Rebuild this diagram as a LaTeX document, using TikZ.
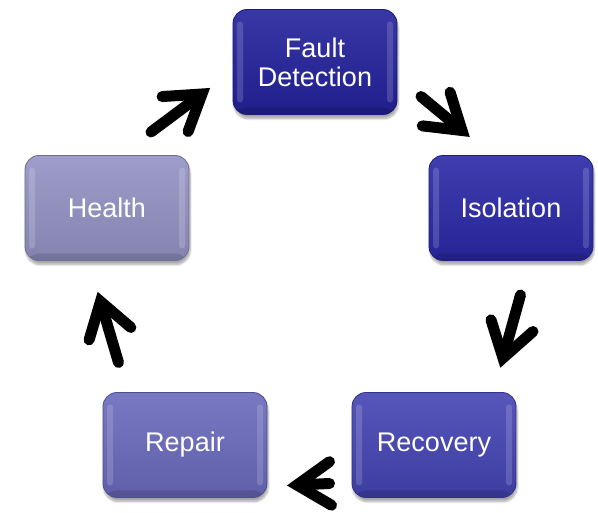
\documentclass[tikz,border=0pt]{standalone}
\usepackage{fontspec}
\setmainfont{Liberation Sans}
\usetikzlibrary{calc,shadows.blur}

\definecolor{navyA}{HTML}{23219B}
\definecolor{navyB}{HTML}{2A28A6}
\definecolor{royal}{HTML}{4443B2}
\definecolor{slate}{HTML}{6A69BC}
\definecolor{lilac}{HTML}{9392C4}

\tikzset{
  stage/.style={
    rounded corners=14pt, minimum width=164pt, minimum height=105pt,
    inner sep=0pt, text=white, align=center,
    font=\fontsize{27}{29}\selectfont,
    draw=#1!75!black, line width=0.8pt,
    top color=#1!90!white, bottom color=#1!90!black,
    blur shadow={shadow xshift=1pt, shadow yshift=-4pt,
      shadow blur steps=8, shadow opacity=35},
    path picture={
      % soft bevel highlights along the side edges
      \fill[white, opacity=0.16, rounded corners=3pt]
        ([xshift=4pt, yshift=-12pt]path picture bounding box.north west)
        rectangle ([xshift=10pt, yshift=12pt]path picture bounding box.south west);
      \fill[white, opacity=0.16, rounded corners=3pt]
        ([xshift=-4pt, yshift=-12pt]path picture bounding box.north east)
        rectangle ([xshift=-10pt, yshift=12pt]path picture bounding box.south east);
      % darker rim at the bottom
      \fill[black, opacity=0.12]
        ([yshift=7pt]path picture bounding box.south west)
        rectangle (path picture bounding box.south east);
    }
  },
  arrowline/.style={line width=11pt, line cap=round, draw=black},
}

% shaft plus open head: #1 tail, #2 head vertex
\newcommand\flowarrow[2]{%
  \draw[arrowline] (#1) -- ($(#2)!8pt!(#1)$);
  \draw[arrowline, line join=miter, miter limit=4]
    ($(#2)!40pt!33:(#1)$) -- (#2) -- ($(#2)!40pt!-33:(#1)$);
}

\begin{document}
\begin{tikzpicture}[x=1pt, y=-1pt]
  \useasboundingbox (0,0) rectangle (598,513);

  \node[stage=navyA]  (detect)   at (315,62)  {Fault\\Detection};
  \node[stage=navyB]  (isolate)  at (511,208) {Isolation};
  \node[stage=royal]  (recover)  at (434,445) {Recovery};
  \node[stage=slate]  (repair)   at (185,445) {Repair};
  \node[stage=lilac]  (health)   at (107,208) {Health};

  \coordinate (hd-tail) at (151,132);   \coordinate (hd-tip) at (202,94);
  \coordinate (di-tail) at (421,96.5);  \coordinate (di-tip) at (462,130.5);
  \coordinate (ir-tail) at (520.5,295); \coordinate (ir-tip) at (503,358);
  \coordinate (rr-tail) at (329.5,483.5); \coordinate (rr-tip) at (297,485);
  \coordinate (rh-tail) at (118.5,362.5); \coordinate (rh-tip) at (100.5,301.5);

  \flowarrow{hd-tail}{hd-tip}
  \flowarrow{di-tail}{di-tip}
  \flowarrow{ir-tail}{ir-tip}
  \flowarrow{rr-tail}{rr-tip}
  \flowarrow{rh-tail}{rh-tip}
\end{tikzpicture}
\end{document}
